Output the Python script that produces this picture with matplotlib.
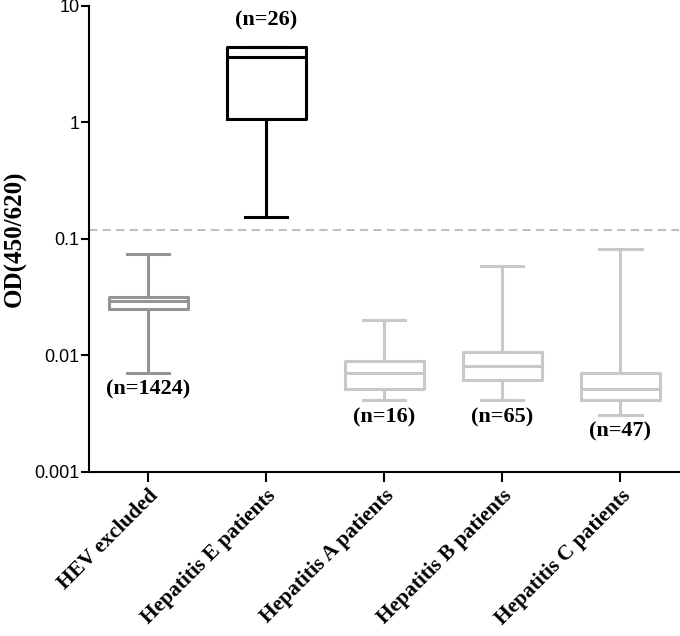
# box plot of OD(450/620) per patient group, log scale
import matplotlib
matplotlib.use('Agg')
import matplotlib.pyplot as plt
from matplotlib.ticker import FixedLocator, NullLocator

groups = ['HEV excluded', 'Hepatitis E patients', 'Hepatitis A patients',
          'Hepatitis B patients', 'Hepatitis C patients']
counts = ['(n=1424)', '(n=26)', '(n=16)', '(n=65)', '(n=47)']

# five-number summaries
mins = [0.0071, 0.155, 0.0041, 0.0041, 0.0031]
q1s = [0.0251, 1.07, 0.0051, 0.0061, 0.0041]
meds = [0.0294, 3.65, 0.0071, 0.0081, 0.0051]
q3s = [0.0318, 4.40, 0.0090, 0.0106, 0.0070]
maxs = [0.0743, 4.40, 0.0202, 0.0586, 0.082]

cutoff = 0.118

colors = ['#959595', '#000000', '#c8c8c8', '#c8c8c8', '#c8c8c8']

serif = ['Liberation Serif', 'DejaVu Serif']
sans = ['Liberation Sans', 'DejaVu Sans']

fig = plt.figure(figsize=(6.8, 6.36), dpi=100)
ax = fig.add_axes([0.131, 0.258, 0.868, 0.733])

lw = 2.2
for i in range(len(groups)):
    stats = [dict(whislo=mins[i], q1=q1s[i], med=meds[i], q3=q3s[i],
                  whishi=maxs[i], fliers=[])]
    c = colors[i]
    ax.bxp(stats, positions=[i], widths=0.67, capwidths=[0.36],
           showfliers=False,
           boxprops=dict(color=c, linewidth=lw),
           medianprops=dict(color=c, linewidth=lw),
           whiskerprops=dict(color=c, linewidth=lw),
           capprops=dict(color=c, linewidth=lw))
    if i == 1:
        ax.annotate(counts[i], (i, maxs[i]), xytext=(0, 12),
                    textcoords='offset points', ha='center', va='bottom',
                    fontsize=16, fontweight='bold', family=serif)
    else:
        ax.annotate(counts[i], (i, mins[i]), xytext=(0, -5),
                    textcoords='offset points', ha='center', va='top',
                    fontsize=16, fontweight='bold', family=serif)

# cut-off line
ax.axhline(cutoff, color='#c0c0c0', linestyle=(0, (4, 2.5)), linewidth=1.5,
           zorder=0)

ax.set_yscale('log')
ax.set_ylim(0.001, 10)
ax.set_xlim(-0.5, 4.5)

ax.yaxis.set_major_locator(FixedLocator([0.001, 0.01, 0.1, 1, 10]))
ax.yaxis.set_minor_locator(NullLocator())
ax.set_yticklabels(['0.001', '0.01', '0.1', '1', '10'], family=sans,
                   fontsize=13)

ax.set_xticks(range(len(groups)))
ax.set_xticklabels(groups, rotation=45, ha='right', rotation_mode='anchor',
                   family=serif, fontweight='bold', fontsize=15.5)

ax.spines['top'].set_visible(False)
ax.spines['right'].set_visible(False)
ax.spines['left'].set_linewidth(1.5)
ax.spines['bottom'].set_linewidth(1.5)
ax.tick_params(axis='y', direction='out', length=6, width=1.5, pad=1)
ax.tick_params(axis='x', direction='out', length=7, width=1.5, pad=3)

ax.set_ylabel('OD(450/620)', family=serif, fontweight='bold', fontsize=18,
              labelpad=5)

fig.savefig('out.png', dpi=100)
